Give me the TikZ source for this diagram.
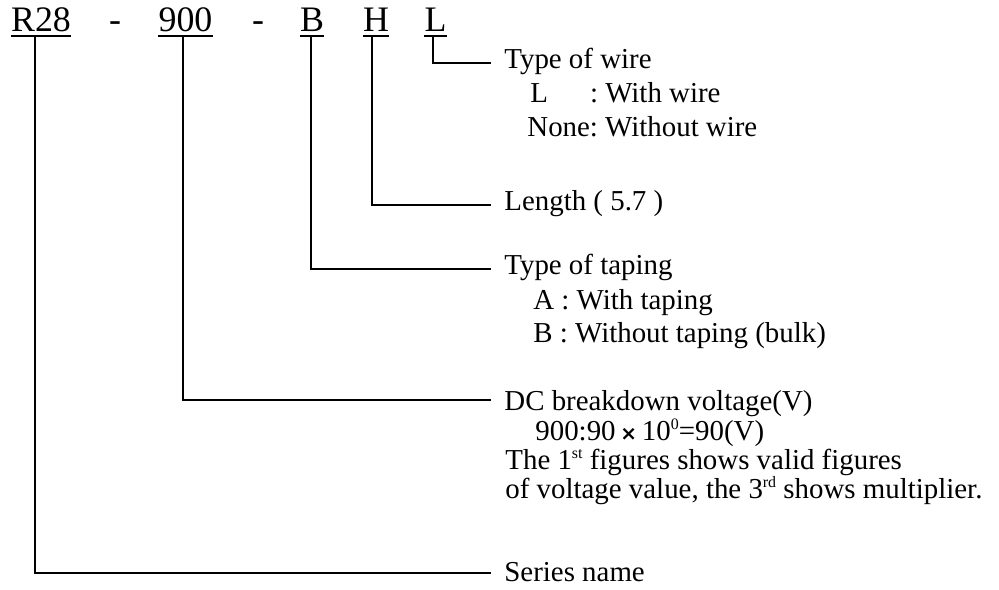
\documentclass[tikz,border=0pt]{standalone}
\usepackage{fontspec}
\setmainfont{Liberation Serif}
\newfontfamily\signfont{DejaVu Sans}
\usetikzlibrary{calc}
\frenchspacing

\begin{document}
\begin{tikzpicture}[x=0.5bp,y=-0.5bp,
    code/.style={anchor=base,inner sep=0pt,font=\fontsize{18}{20}\selectfont},
    desc/.style={anchor=west,inner xsep=6.5bp,inner ysep=0pt,text height=6bp,text depth=0pt,
      font=\fontsize{14.5}{17}\selectfont},
    sub/.style={anchor=base west,inner sep=0pt,font=\fontsize{14.5}{17}\selectfont},
    leader/.style={line width=1bp,draw=black}]
  \def\mult{{\signfont\bfseries\fontsize{10}{12}\selectfont ×}}
  \def\up#1{\raisebox{0.85ex}{\fontsize{8}{8}\selectfont #1}}

  \useasboundingbox (0,0) rectangle (999,590);

  % part number
  \node [code] (R)     at (41,32)    {R28};
  \node [code] (dash1) at (115,32)   {-};
  \node [code] (V)     at (185.5,32) {900};
  \node [code] (dash2) at (258,32)   {-};
  \node [code] (B)     at (312,32)   {B};
  \node [code] (H)     at (376,32)   {H};
  \node [code] (L)     at (435.5,32) {L};

  \foreach \part in {R,V,B,H,L}
    \draw [line width=1.2bp] ([yshift=-2bp]\part.base west) -- ([yshift=-2bp]\part.base east);

  % descriptions
  \node [desc] (wire) at (491,63) {Type of wire};
  \node [sub] (wire1) at (530,103) {L\hspace{21bp}: With wire};
  \node [sub] (wire2) at (527,137) {None: Without wire};

  \node [desc] (length) at (491,205) {Length ( 5.7 )};

  \node [desc] (taping) at (491,269) {Type of taping};
  \node [sub] (taping1) at (533,310) {A : With taping};
  \node [sub] (taping2) at (533,343) {B : Without taping (bulk)};

  \node [desc,text height=11bp] (voltage) at (491,400) {DC breakdown voltage(V)};
  \node [sub] (volt1) at (535,441) {900:90\,\mult\,10\up{0}=90(V)};
  \node [sub] (volt2) at (505,470) {The 1\up{st} figures shows valid figures};
  \node [sub] (volt3) at (505,499) {of voltage value, the 3\up{rd} shows multiplier.};

  \node [desc,text height=9bp] (series) at (491,573) {Series name};

  \foreach \part/\dx/\what in {L/-1.25/wire,H/-2/length,B/-0.5/taping,V/-1.25/voltage,R/-3/series}
    \draw [leader] ([xshift=\dx bp,yshift=-2bp]\part.south) |- (\what.west);
\end{tikzpicture}
\end{document}
